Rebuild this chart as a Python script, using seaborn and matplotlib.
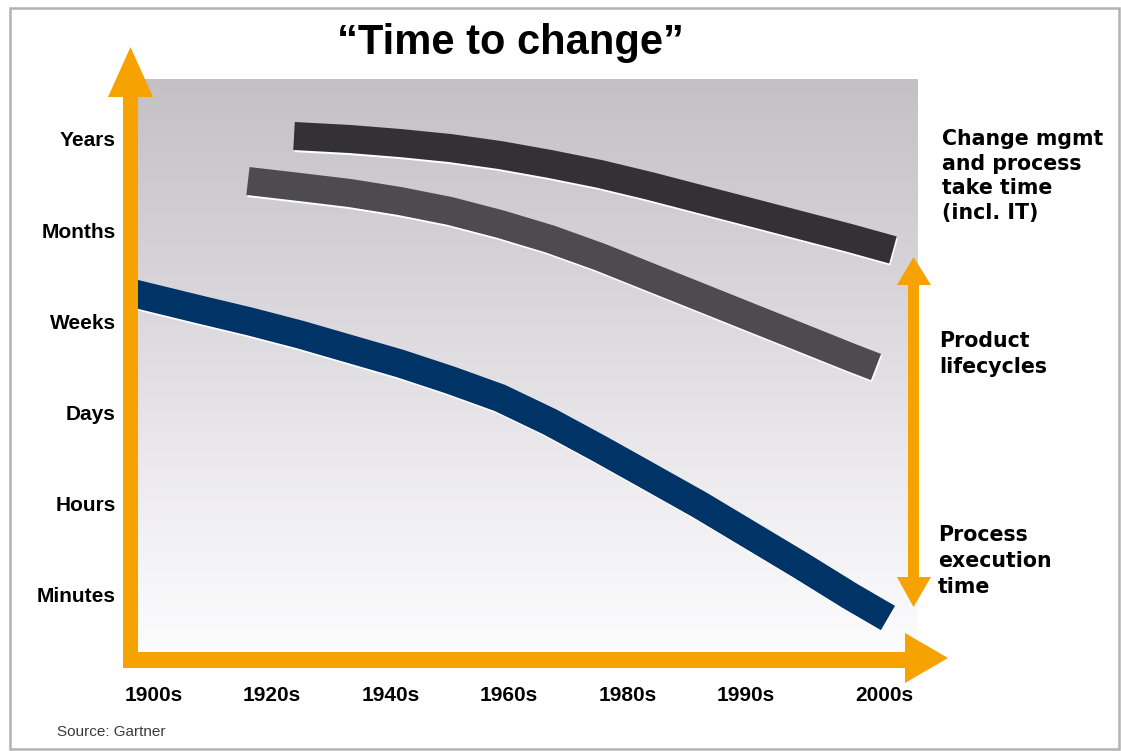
import numpy as np
import pandas as pd
import matplotlib
matplotlib.use("Agg")
import matplotlib.pyplot as plt
import matplotlib.patheffects as pe
from matplotlib.patches import Polygon, Rectangle
from matplotlib.colors import LinearSegmentedColormap
import seaborn as sns

# ---- data -------------------------------------------------------------
# Horizontal axis: decade labels and their positions along the timeline
decades = ["1900s", "1920s", "1940s", "1960s", "1980s", "1990s", "2000s"]
decade_pos = [0, 1, 2, 3, 4, 5, 6.17]

# Vertical axis: time-scale levels
time_units = ["Minutes", "Hours", "Days", "Weeks", "Months", "Years"]
unit_pos = [0, 1, 2, 3, 4, 5]

# Change management and process (incl. IT)
change_x = [1.186, 1.658, 2.080, 2.502, 2.924, 3.346, 3.768, 4.190,
            4.612, 5.034, 5.456, 5.878, 6.240]
change_y = [5.033, 5.000, 4.956, 4.901, 4.824, 4.726, 4.616, 4.484,
            4.341, 4.199, 4.056, 3.913, 3.782]

# Product lifecycles
product_x = [0.797, 1.236, 1.658, 2.080, 2.502, 2.924, 3.346, 3.768,
             4.190, 4.612, 5.034, 5.456, 5.878, 6.097]
product_y = [4.539, 4.473, 4.407, 4.319, 4.210, 4.067, 3.902, 3.705,
             3.485, 3.266, 3.046, 2.827, 2.607, 2.497]

# Process execution time
process_x = [-0.215, 0.392, 0.814, 1.236, 1.658, 2.080, 2.502, 2.924,
             3.346, 3.768, 4.190, 4.612, 5.034, 5.456, 5.878, 6.198]
process_y = [3.321, 3.128, 2.997, 2.854, 2.695, 2.536, 2.355, 2.157,
             1.894, 1.597, 1.290, 0.982, 0.653, 0.324, -0.016, -0.258]

series_names = ["Change mgmt", "Product lifecycles", "Process execution time"]
series_colors = ["#333133", "#4d4b4e", "#003366"]

# ---- style ------------------------------------------------------------
sns.set_theme(style="white")
plt.rcParams["font.family"] = ["Liberation Sans", "DejaVu Sans"]

W, H = 1121, 751
fig = plt.figure(figsize=(W / 100, H / 100), dpi=100)
fig.patch.set_facecolor("white")

ORANGE = "#F6A200"

# Decoration layer in pixel units
deco = fig.add_axes([0, 0, 1, 1])
deco.set_xlim(0, W)
deco.set_ylim(H, 0)
deco.axis("off")

# Frame
deco.add_patch(Rectangle((10, 8), 1109, 741, fill=False, edgecolor="#b3b3b3",
                         linewidth=1.8, zorder=1))

# Gradient backdrop behind the curves
grad_cmap = LinearSegmentedColormap.from_list(
    "bg", ["#c3c1c5", "#d6d4d8", "#eceaed", "#fdfdfe"])
grad = np.linspace(0, 1, 256).reshape(-1, 1)
deco.imshow(grad, extent=[138, 918, 662, 79], cmap=grad_cmap, aspect="auto",
            origin="upper", zorder=1, interpolation="bicubic")

# Orange axis arrows
deco.add_patch(Polygon([(123, 668), (123, 97), (108, 97), (130.5, 47),
                        (153, 97), (138, 97), (138, 668)],
                       closed=True, facecolor=ORANGE, edgecolor="none", zorder=2))
deco.add_patch(Polygon([(123, 652), (905, 652), (905, 633), (948, 658),
                        (905, 683), (905, 668), (123, 668)],
                       closed=True, facecolor=ORANGE, edgecolor="none", zorder=2))
# Double-headed arrow on the right
deco.add_patch(Polygon([(908, 285), (897, 285), (913.5, 257), (931, 285),
                        (919, 285), (919, 577), (931, 577), (913.5, 607),
                        (897, 577), (908, 577)],
                       closed=True, facecolor=ORANGE, edgecolor="none", zorder=2))

# Title and source
deco.text(510, 54, "\u201cTime to change\u201d", ha="center", va="baseline",
          fontsize=30, fontweight="bold", color="black",
          family=["Liberation Sans", "DejaVu Sans"])
deco.text(57, 736, "Source: Gartner", ha="left", va="baseline",
          fontsize=11, color="#3a3a3a", family=["Liberation Sans", "DejaVu Sans"])

# Side annotations
side_font = dict(fontsize=14.8, fontweight="bold", color="black",
                 family=["DejaVu Sans"], ha="left", va="baseline")
for i, line in enumerate(["Change mgmt", "and process", "take time", "(incl. IT)"]):
    deco.text(942, 145 + i * 24.5, line, **side_font)
for i, line in enumerate(["Product", "lifecycles"]):
    deco.text(939, 347 + i * 26, line, **side_font)
for i, line in enumerate(["Process", "execution", "time"]):
    deco.text(938, 541 + i * 25.8, line, **side_font)

# ---- data axes ---------------------------------------------------------
left_px, right_px, top_px, bottom_px = 138, 918, 79, 668
ax = fig.add_axes([left_px / W, 1 - bottom_px / H,
                   (right_px - left_px) / W, (bottom_px - top_px) / H])
ax.patch.set_alpha(0)
x0, xu = 153.5, 118.5   # pixel of first decade, pixels per step
y0, yu = 594.5, 91.1    # pixel of "Minutes", pixels per level
ax.set_xlim((left_px - x0) / xu, (right_px - x0) / xu)
ax.set_ylim((y0 - bottom_px) / yu, (y0 - top_px) / yu)

frames = []
for name, xs, ys in [(series_names[0], change_x, change_y),
                     (series_names[1], product_x, product_y),
                     (series_names[2], process_x, process_y)]:
    frames.append(pd.DataFrame({"pos": xs, "level": ys, "series": name}))
df = pd.concat(frames, ignore_index=True)

sns.lineplot(data=df, x="pos", y="level", hue="series",
             palette=dict(zip(series_names, series_colors)),
             estimator=None, sort=False, legend=False, ax=ax,
             linewidth=20.2, solid_capstyle="butt", solid_joinstyle="round",
             path_effects=[pe.Stroke(linewidth=20.2, foreground="white",
                                     offset=(0.8, -1.5)),
                           pe.Normal()])

ax.set_xticks(decade_pos)
ax.set_xticklabels(decades)
ax.set_yticks(unit_pos)
ax.set_yticklabels(time_units)
ax.set_xlabel("")
ax.set_ylabel("")
for lab in ax.get_xticklabels() + ax.get_yticklabels():
    lab.set_fontweight("bold")
    lab.set_fontsize(15)
    lab.set_color("black")
ax.tick_params(axis="x", length=0, pad=13)
ax.tick_params(axis="y", length=0, pad=16)
for s in ax.spines.values():
    s.set_visible(False)
ax.grid(False)

fig.savefig("out.png", dpi=100, facecolor="white")
